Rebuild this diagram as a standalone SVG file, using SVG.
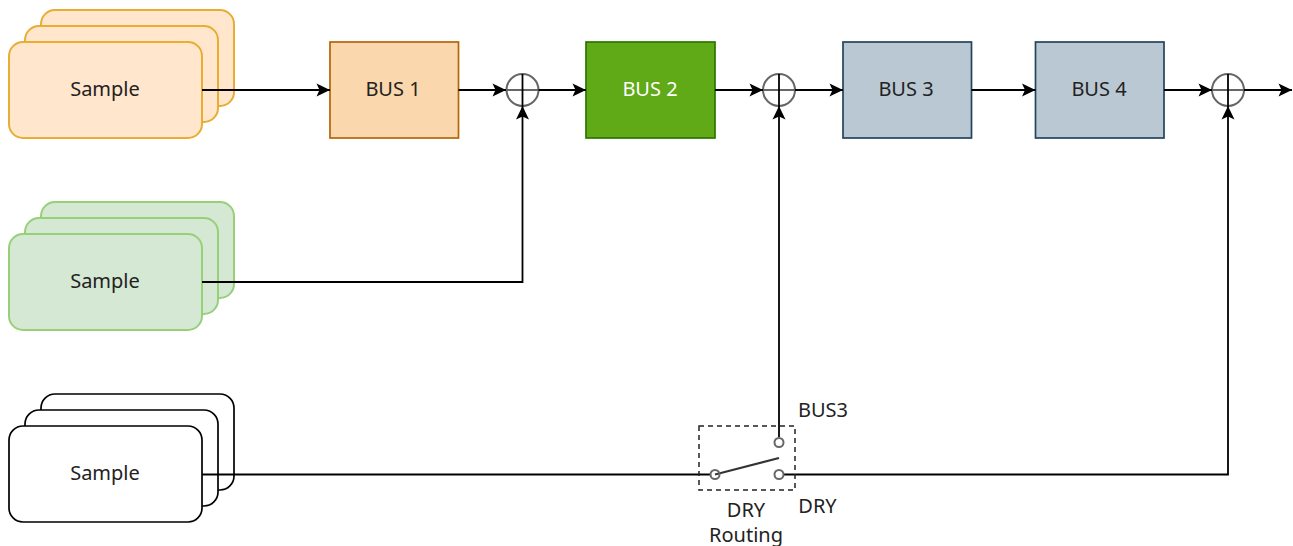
<svg xmlns="http://www.w3.org/2000/svg" width="1293" height="546" viewBox="0 0 1293 546">
<style>
text{font-family:"Noto Sans","DejaVu Sans",sans-serif;font-size:20px;fill:#222;text-anchor:middle}
.o rect{fill:#ffe6cc;stroke:#e8ad35;stroke-width:2}
.g rect{fill:#d5e8d4;stroke:#97d077;stroke-width:2}
.w rect{fill:#fff;stroke:#000;stroke-width:1.700}
.c{fill:none;stroke:#000;stroke-width:1.800}
.s{fill:#fff;stroke:#666;stroke-width:2}
.x{fill:none;stroke:#666;stroke-width:2}
.b{stroke-width:1.700}
</style>
<defs><marker id="a" markerUnits="userSpaceOnUse" markerWidth="16" markerHeight="16" refX="14" refY="8" orient="auto"><path d="M0.500 1.500L14 8L0.500 14.500L3.500 8Z" fill="#000"/></marker></defs>
<g id="stack1" class="o"><rect x="41" y="10" width="193" height="96" rx="14"/><rect x="25" y="26" width="193" height="96" rx="14"/><rect x="9" y="42" width="193" height="96" rx="14"/><text x="105" y="95.500">Sample</text></g>
<g id="stack2" class="g"><rect x="41" y="202" width="193" height="96" rx="14"/><rect x="25" y="218" width="193" height="96" rx="14"/><rect x="9" y="234" width="193" height="96" rx="14"/><text x="105" y="287.500">Sample</text></g>
<g id="stack3" class="w"><rect x="41" y="394" width="193" height="96" rx="14"/><rect x="25" y="410" width="193" height="96" rx="14"/><rect x="9" y="426" width="193" height="96" rx="14"/><text x="105" y="479.500">Sample</text></g>
<g id="bus1"><rect class="b" x="330" y="42" width="128.500" height="96" fill="#fad7ac" stroke="#b46504"/><text x="393" y="95.500">BUS 1</text></g>
<g id="bus2"><rect class="b" x="586" y="42" width="129" height="96" fill="#60a917" stroke="#2d7600"/><text x="650" y="95.500" style="fill:#fff">BUS 2</text></g>
<g id="bus3"><rect class="b" x="843" y="42" width="128.500" height="96" fill="#bac8d3" stroke="#23445d"/><text x="906" y="95.500">BUS 3</text></g>
<g id="bus4"><rect class="b" x="1035.500" y="42" width="128.500" height="96" fill="#bac8d3" stroke="#23445d"/><text x="1099" y="95.500">BUS 4</text></g>
<g id="sum1"><circle class="x" cx="522.500" cy="90" r="16"/><path class="x" d="M506.500 90H538.500"/><path class="c" d="M522.500 74V106"/></g>
<g id="sum2"><circle class="x" cx="779" cy="90" r="16"/><path class="x" d="M763 90H795"/><path class="c" d="M779 74V106"/></g>
<g id="sum3"><circle class="x" cx="1228" cy="90" r="16"/><path class="x" d="M1212 90H1244"/><path class="c" d="M1228 74V106"/></g>
<g id="connectors" class="c">
<path marker-end="url(#a)" d="M202 90H330"/>
<path marker-end="url(#a)" d="M458.500 90H506"/>
<path marker-end="url(#a)" d="M538.500 90H586"/>
<path marker-end="url(#a)" d="M715 90H763"/>
<path marker-end="url(#a)" d="M795 90H843"/>
<path marker-end="url(#a)" d="M971.500 90H1035.500"/>
<path marker-end="url(#a)" d="M1164 90H1212"/>
<path marker-end="url(#a)" d="M1244 90H1292"/>
<path marker-end="url(#a)" d="M202 282H522.500V106"/>
<path marker-end="url(#a)" d="M779 437V106"/>
<path d="M202 474.500H711"/>
<path marker-end="url(#a)" d="M784 474.500H1228V106"/>
</g>
<g id="switch">
<rect x="699" y="426" width="96" height="64" fill="none" stroke="#222" stroke-width="1.500" stroke-dasharray="5 4"/>
<path d="M715 474.500L779 458" fill="none" stroke="#333" stroke-width="2"/>
<circle class="s" cx="715" cy="474.500" r="4.500" style="fill:none"/>
<circle class="s" cx="779" cy="474.500" r="4.500"/>
<circle class="s" cx="779" cy="442.500" r="4.500"/>
<text x="823" y="416.500">BUS3</text>
<text x="817.500" y="512.500">DRY</text>
<text x="746" y="516.500">DRY</text>
<text x="746" y="541.500">Routing</text>
</g>
</svg>
